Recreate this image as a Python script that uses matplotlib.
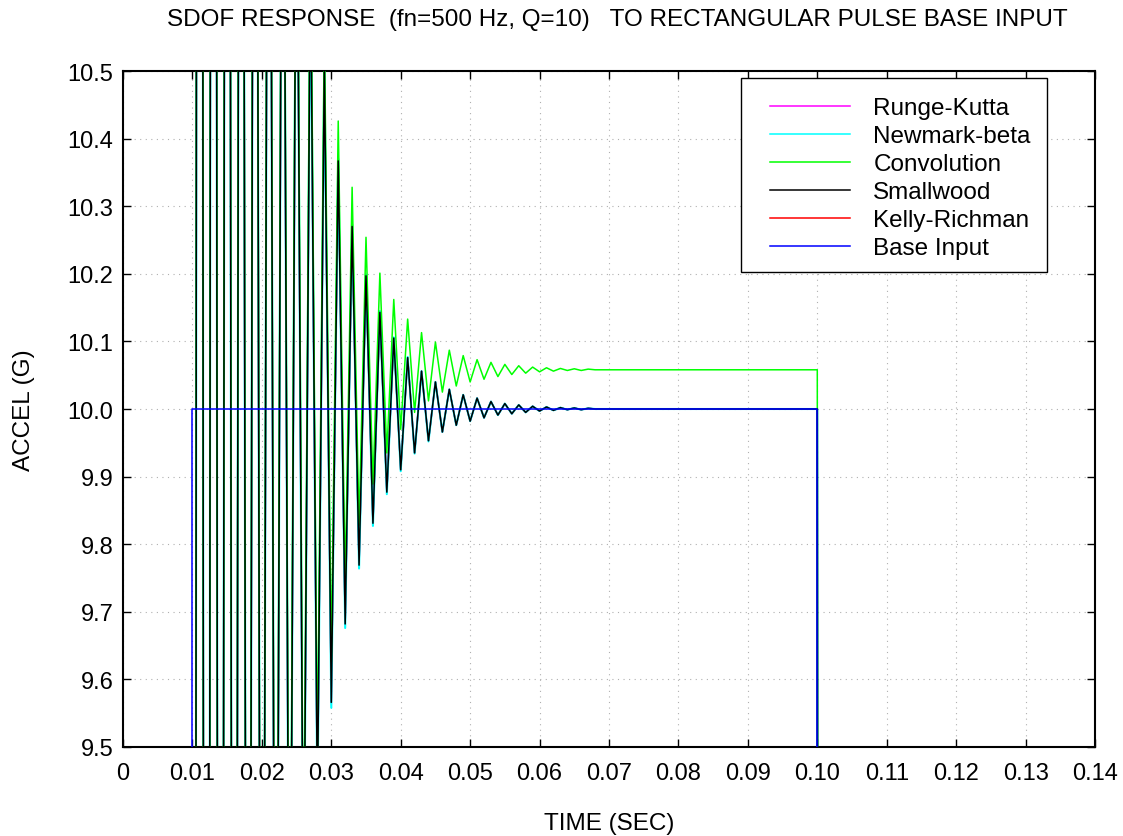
import matplotlib
matplotlib.use("Agg")
import matplotlib.pyplot as plt
from matplotlib.patches import Rectangle
import numpy as np

plt.rcParams['font.family'] = ['Liberation Sans', 'DejaVu Sans']

# response sampled at the peaks / troughs (every half period, 0.001 s)
# values outside 9.5..10.5 are off the plot and only estimated
resp_time = [0.010, 0.011, 0.012, 0.013, 0.014, 0.015, 0.016, 0.017, 0.018, 0.019,
             0.020, 0.021, 0.022, 0.023, 0.024, 0.025, 0.026, 0.027, 0.028, 0.029,
             0.030, 0.031, 0.032, 0.033, 0.034, 0.035, 0.036, 0.037, 0.038, 0.039,
             0.040, 0.041, 0.042, 0.043, 0.044, 0.045, 0.046, 0.047, 0.048, 0.049,
             0.050, 0.051, 0.052, 0.053, 0.054, 0.055, 0.056, 0.057, 0.058, 0.059,
             0.060, 0.061, 0.062, 0.063, 0.064, 0.065, 0.066, 0.067, 0.068, 0.100, 0.101]

smallwood = [0.0, 18.51, 2.73, 16.22, 4.68, 14.55, 6.11, 13.32, 7.16, 12.43,
             7.92, 11.78, 8.48, 11.30, 8.89, 10.95, 9.19, 10.69, 9.41, 10.51,
             9.566, 10.367, 9.682, 10.270, 9.769, 10.197, 9.831, 10.143, 9.877, 10.105,
             9.910, 10.076, 9.935, 10.056, 9.953, 10.040, 9.966, 10.029, 9.976, 10.021,
             9.982, 10.016, 9.987, 10.011, 9.991, 10.008, 9.993, 10.006, 9.995, 10.004,
             9.997, 10.003, 9.998, 10.002, 9.999, 10.0015, 9.999, 10.001, 10.0, 10.0, -8.5]

newmark = [0.0, 18.51, 2.72, 16.22, 4.67, 14.55, 6.10, 13.32, 7.15, 12.43,
           7.91, 11.78, 8.47, 11.30, 8.88, 10.95, 9.18, 10.69, 9.40, 10.51,
           9.558, 10.370, 9.676, 10.273, 9.764, 10.199, 9.827, 10.145, 9.874, 10.106,
           9.908, 10.077, 9.934, 10.056, 9.952, 10.040, 9.966, 10.029, 9.976, 10.021,
           9.982, 10.016, 9.987, 10.011, 9.991, 10.008, 9.993, 10.006, 9.995, 10.004,
           9.997, 10.003, 9.998, 10.002, 9.999, 10.0015, 9.999, 10.001, 10.0, 10.0, -8.5]

convolution = [0.06, 18.57, 2.79, 16.28, 4.74, 14.61, 6.17, 13.38, 7.22, 12.49,
               7.98, 11.84, 8.54, 11.36, 8.95, 11.01, 9.25, 10.75, 9.47, 10.57,
               9.626, 10.426, 9.742, 10.328, 9.828, 10.254, 9.889, 10.201, 9.935, 10.162,
               9.970, 10.133, 9.995, 10.113, 10.012, 10.099, 10.025, 10.087, 10.034, 10.079,
               10.040, 10.073, 10.044, 10.069, 10.048, 10.066, 10.051, 10.064, 10.053, 10.062,
               10.055, 10.061, 10.056, 10.060, 10.057, 10.0595, 10.057, 10.059, 10.058, 10.058, -8.44]

base_time = [0.0, 0.01, 0.01, 0.1, 0.1, 0.14]
base_input = [0.0, 0.0, 10.0, 10.0, 0.0, 0.0]

labels = ['Runge-Kutta', 'Newmark-beta', 'Convolution', 'Smallwood', 'Kelly-Richman', 'Base Input']
cols = ['magenta', 'cyan', '#00ff00', 'black', 'red', 'blue']

FS = 17.5

fig = plt.figure(figsize=(11.23, 8.37), dpi=100)
ax = fig.add_axes([123/1123, 1 - 748/837, (1095 - 123)/1123, (748 - 72)/837])

lw = 1.1
ax.plot(resp_time, smallwood, color='red', lw=lw, zorder=2)
ax.plot(resp_time, smallwood, color='magenta', lw=lw, zorder=2)
ax.plot(resp_time, newmark, color='cyan', lw=lw + 0.4, zorder=2)
ax.plot(resp_time, convolution, color='#00ff00', lw=lw, zorder=3)
ax.plot(resp_time, smallwood, color='black', lw=lw, zorder=4)
ax.plot(base_time, base_input, color='blue', lw=lw, zorder=5)

ax.set_xlim(0, 0.14)
ax.set_ylim(9.5, 10.5)
ax.set_xticks(np.arange(0, 0.141, 0.01))
ax.set_xticklabels(['0'] + ['%.2f' % v for v in np.arange(0.01, 0.141, 0.01)])
ax.set_yticks(np.arange(9.5, 10.51, 0.1))
ax.set_yticklabels(['%.1f' % v for v in np.arange(9.5, 10.51, 0.1)])
ax.tick_params(direction='in', length=6, width=1, top=True, right=True,
               labelsize=17, color='black')
ax.tick_params(axis='x', pad=11)
ax.tick_params(axis='y', pad=7)
ax.grid(True, linestyle=(0, (1, 4)), color='#b0b0b0', linewidth=0.8)
for s in ax.spines.values():
    s.set_linewidth(1.5)

ax.set_xlabel('TIME (SEC)', fontsize=FS, labelpad=20)
ax.set_ylabel('ACCEL (G)', fontsize=FS, labelpad=23)
fig.text(617/1123, 1 - 20/837, 'SDOF RESPONSE  (fn=500 Hz, Q=10)   TO RECTANGULAR PULSE BASE INPUT',
         ha='center', va='center', fontsize=FS)

# legend box
fig.patches.append(Rectangle((741/1123, 1 - 273/837), (1047 - 741)/1123, (273 - 79)/837,
                             transform=fig.transFigure, facecolor='white',
                             edgecolor='black', lw=1.0, zorder=10))
handles = [plt.Line2D([], [], color=c, lw=1.1) for c in cols]
leg = fig.legend(handles, labels, loc='upper left', bbox_to_anchor=(770/1123, 1 - 98/837),
                 fontsize=FS, frameon=False, handlelength=3.3, handletextpad=0.95,
                 labelspacing=0.25, borderpad=0, borderaxespad=0)
leg.set_zorder(11)

fig.savefig('out.png', dpi=100)
